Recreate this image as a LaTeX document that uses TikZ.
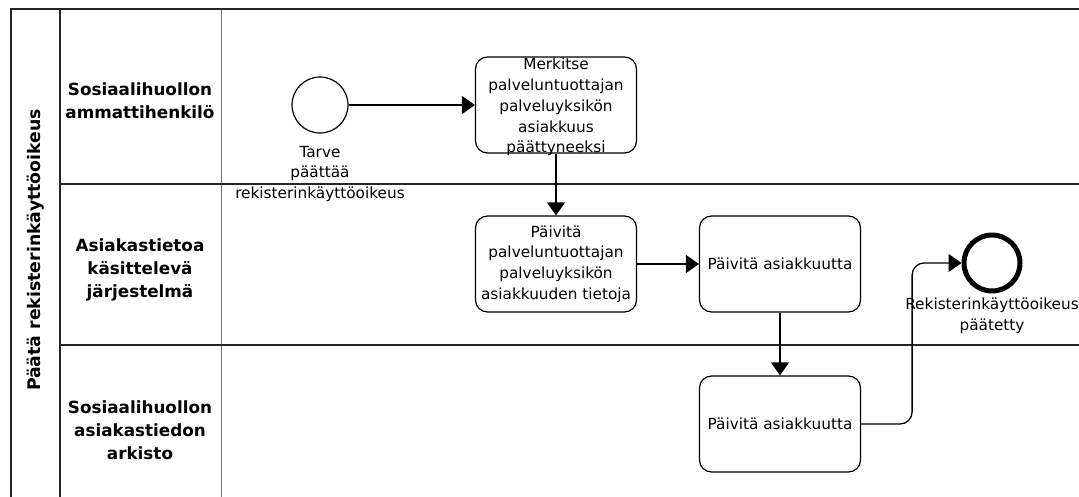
\documentclass[tikz,border=0pt]{standalone}
\usepackage{fontspec}
\setmainfont{DejaVu Sans}
\usetikzlibrary{arrows.meta}
\begin{document}
\begin{tikzpicture}[x=1pt,y=-1pt,
  poolline/.style={line width=2pt, draw=black!85},
  laneline/.style={line width=1.5pt, draw=black!85},
  headline/.style={line width=1pt, draw=black!55},
  task/.style={draw, line width=1.2pt, rounded corners=12pt, minimum width=161pt, minimum height=96pt, inner sep=0pt},
  tasktext/.style={align=center, font=\fontsize{15.3}{20.8}\selectfont, inner sep=0pt},
  lanetitle/.style={align=center, font=\bfseries\fontsize{16.8}{23}\selectfont},
  flow/.style={line width=1.3pt, -{Triangle[length=13pt,width=18pt]}},
  evlabel/.style={align=center, font=\fontsize{15.3}{20.5}\selectfont, inner sep=0pt}
]
\useasboundingbox (0,0) rectangle (1079,496);
\fill[white] (0,0) rectangle (1079,496);
\clip (0,0) rectangle (1079,496);

% pool frame and lanes
\draw[poolline] (11,520) -- (11,9) -- (1090,9);
\draw[poolline] (59.5,9) -- (59.5,520);
\draw[headline] (221,10) -- (221,520);
\draw[laneline] (59.5,184) -- (1090,184);
\draw[laneline] (59.5,345) -- (1090,345);

% pool and lane titles
\node[rotate=90, font=\bfseries\fontsize{17.3}{20}\selectfont] (pool) at (36,250) {Päätä rekisterinkäyttöoikeus};
\node[lanetitle] (lane1) at (140,101) {Sosiaalihuollon\\ammattihenkilö};
\node[lanetitle] (lane2) at (140,270) {Asiakastietoa\\käsittelevä\\järjestelmä};
\node[lanetitle] (lane3) at (140,430) {Sosiaalihuollon\\asiakastiedon\\arkisto};

% events
\node[circle, draw, line width=1.2pt, minimum size=56pt, inner sep=0pt] (start) at (320,105) {};
\node[evlabel, anchor=north] (startlbl) at (320,146) {Tarve\\päättää\\rekisterinkäyttöoikeus};
\node[circle, draw, line width=5pt, minimum size=56pt, inner sep=0pt] (end) at (992,263) {};
\node[evlabel, anchor=north] (endlbl) at (992,298) {Rekisterinkäyttöoikeus\\päätetty};

% tasks
\node[task] (t1) at (556,105) {};
\node[tasktext] (t1txt) at (556,107) {Merkitse\\palveluntuottajan\\palveluyksikön\\asiakkuus\\päättyneeksi};
\node[task] (t2) at (556,264) {};
\node[tasktext] (t2txt) at (t2) {Päivitä\\palveluntuottajan\\palveluyksikön\\asiakkuuden tietoja};
\node[task] (t3) at (780,264) {};
\node[tasktext] (t3txt) at (t3) {Päivitä asiakkuutta};
\node[task] (t4) at (780,424) {};
\node[tasktext] (t4txt) at (t4) {Päivitä asiakkuutta};

% sequence flows
\draw[flow] (start) -- (t1);
\draw[flow] (t1) -- (t2);
\draw[flow] (t2) -- (t3);
\draw[flow] (t3) -- (t4);
\draw[flow, rounded corners=12pt] (t4.east) -- ++(51,0) |- (end.west);
\end{tikzpicture}
\end{document}
